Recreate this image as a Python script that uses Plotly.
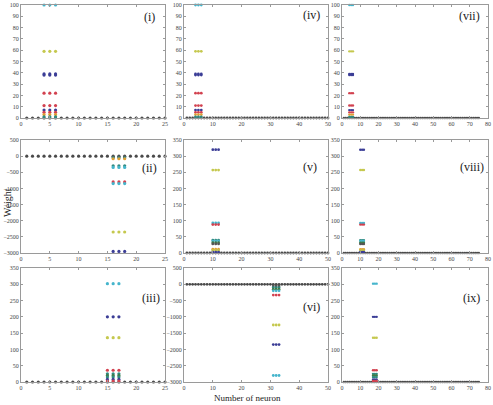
import plotly.graph_objects as go

# ---------------- data ----------------
# panel: (number of neurons, cluster x positions, cluster values, colour keys)
p1_n = 25
p1_cx = [4, 5, 6]
p1_vals = [100, 59, 39, 38, 22, 11, 7, 5, 3, 1]
p1_cols = ["cyan", "olive", "navy", "navy", "red", "red", "navy", "red", "orange", "teal"]

p2_n = 25
p2_cx = [16, 17, 18]
p2_vals = [-20, -50, -80, -300, -350, -800, -850, -2350, -2950]
p2_cols = ["gray", "teal", "orange", "teal", "cyan", "red", "cyan", "olive", "navy"]

p3_n = 25
p3_cx = [15, 16, 17]
p3_vals = [302, 200, 136, 36, 25, 20, 15, 8, 3]
p3_cols = ["cyan", "navy", "olive", "red", "teal", "green", "teal", "navy", "red"]

p4_n = 50
p4_cx = [4, 5, 6]
p4_vals = [100, 59, 39, 38, 22, 11, 7, 5, 3, 1]
p4_cols = ["cyan", "olive", "navy", "navy", "red", "red", "navy", "red", "orange", "teal"]

p5_n = 50
p5_cx = [10, 11, 12]
p5_vals = [320, 257, 93, 88, 40, 37, 32, 28, 12, 8, 3]
p5_cols = ["navy", "olive", "cyan", "red", "teal", "cyan", "green", "gray", "orange", "olive", "navy"]

p6_n = 50
p6_cx = [31, 32, 33]
p6_vals = [-50, -100, -150, -200, -330, -1250, -1850, -2800]
p6_cols = ["gray", "teal", "green", "cyan", "red", "olive", "navy", "cyan"]

p7_n = 75
p7_cx = [4, 5, 6]
p7_vals = [100, 59, 39, 38, 22, 11, 7, 5, 3, 1]
p7_cols = ["cyan", "olive", "navy", "navy", "red", "red", "navy", "red", "orange", "teal"]

p8_n = 75
p8_cx = [10, 11, 12]
p8_vals = [320, 257, 93, 88, 40, 37, 32, 28, 12, 8, 3]
p8_cols = ["navy", "olive", "cyan", "red", "teal", "cyan", "green", "gray", "orange", "olive", "navy"]

p9_n = 75
p9_cx = [17, 18, 19]
p9_vals = [302, 200, 136, 36, 25, 20, 15, 8, 3]
p9_cols = ["cyan", "navy", "olive", "red", "teal", "green", "teal", "navy", "red"]

panel_labels = ["(i)", "(ii)", "(iii)", "(iv)", "(v)", "(vi)", "(vii)", "(viii)", "(ix)"]

x_ranges = [[0, 25], [0, 50], [0, 80]]
x_dticks = [5, 10, 10]
y_ranges = [[0, 100], [-3000, 500], [0, 350],
            [0, 100], [0, 350], [-3000, 500],
            [0, 100], [0, 350], [0, 350]]
y_dticks = [10, 500, 50, 10, 50, 500, 10, 50, 50]

# ---------------- style ----------------
palette = {
    "navy": "#3b3d96", "olive": "#c5c84e", "cyan": "#45b5cc", "red": "#d2414f",
    "teal": "#2f8a80", "green": "#3f7a45", "orange": "#e0a035", "gray": "#555555",
}
W, H = 493, 405
col_px = [(21, 165), (184, 328), (342, 488)]
row_px = [(5, 118), (140, 253), (268, 382)]
# label placement in pixels: (right edge x, centre y)
label_px = [(157, 17), (159, 168), (162, 298),
            (322, 15), (319, 167), (322, 307),
            (482, 16), (486, 167), (482, 298)]
serif = "Liberation Serif, Times New Roman, serif"

panels = [
    (p1_n, p1_cx, p1_vals, p1_cols), (p2_n, p2_cx, p2_vals, p2_cols), (p3_n, p3_cx, p3_vals, p3_cols),
    (p4_n, p4_cx, p4_vals, p4_cols), (p5_n, p5_cx, p5_vals, p5_cols), (p6_n, p6_cx, p6_vals, p6_cols),
    (p7_n, p7_cx, p7_vals, p7_cols), (p8_n, p8_cx, p8_vals, p8_cols), (p9_n, p9_cx, p9_vals, p9_cols),
]

fig = go.Figure()
layout = dict(
    width=W, height=H, margin=dict(l=0, r=0, t=0, b=0),
    paper_bgcolor="white", plot_bgcolor="white", showlegend=False,
)
annotations = []

for i, (n, cx, vals, cols) in enumerate(panels):
    col, row = i // 3, i % 3
    k = i + 1
    xa = "x" if k == 1 else f"x{k}"
    ya = "y" if k == 1 else f"y{k}"
    msize = 3.2 if col == 0 else (2.8 if col == 1 else 2.4)
    # baseline neurons at zero
    base_x = [j for j in range(1, n + 1)]
    base_y = [0 for _ in base_x]
    fig.add_trace(go.Scatter(x=base_x, y=base_y, mode="markers", xaxis=xa, yaxis=ya,
                             cliponaxis=False,
                             marker=dict(size=msize, color="#4a4a4a", symbol="circle")))
    for v, c in zip(vals, cols):
        fig.add_trace(go.Scatter(x=cx, y=[v] * len(cx), mode="markers", xaxis=xa, yaxis=ya,
                                 cliponaxis=False,
                                 marker=dict(size=msize, color=palette[c], symbol="circle")))
    x0, x1 = col_px[col]
    y0, y1 = row_px[row]
    axis_common = dict(showline=True, linecolor="#9a9a9a", linewidth=1, mirror="ticks",
                       ticks="inside", ticklen=2, tickcolor="#9a9a9a", showgrid=False,
                       zeroline=False, tickfont=dict(family=serif, size=6, color="#444"),
                       automargin=False)
    layout["xaxis" + ("" if k == 1 else str(k))] = dict(
        domain=[x0 / W, x1 / W], range=x_ranges[col], dtick=x_dticks[col], tick0=0,
        anchor=ya, **axis_common)
    layout["yaxis" + ("" if k == 1 else str(k))] = dict(
        domain=[1 - y1 / H, 1 - y0 / H], range=y_ranges[i], dtick=y_dticks[i], tick0=0,
        anchor=xa, **axis_common)
    lx, ly = label_px[i]
    annotations.append(dict(text=panel_labels[i], xref="paper", yref="paper",
                            x=lx / W, y=1 - ly / H, xanchor="right", yanchor="middle",
                            showarrow=False, font=dict(family=serif, size=12, color="#222")))

annotations.append(dict(text="Weight", xref="paper", yref="paper", x=7 / W, y=1 - 203 / H,
                        xanchor="center", yanchor="middle", textangle=-90, showarrow=False,
                        font=dict(family=serif, size=10, color="#222")))
annotations.append(dict(text="Number of neuron", xref="paper", yref="paper", x=247 / W, y=1 - 398 / H,
                        xanchor="center", yanchor="middle", showarrow=False,
                        font=dict(family=serif, size=9, color="#222")))
layout["annotations"] = annotations
fig.update_layout(**layout)
fig.write_html("out.html")
